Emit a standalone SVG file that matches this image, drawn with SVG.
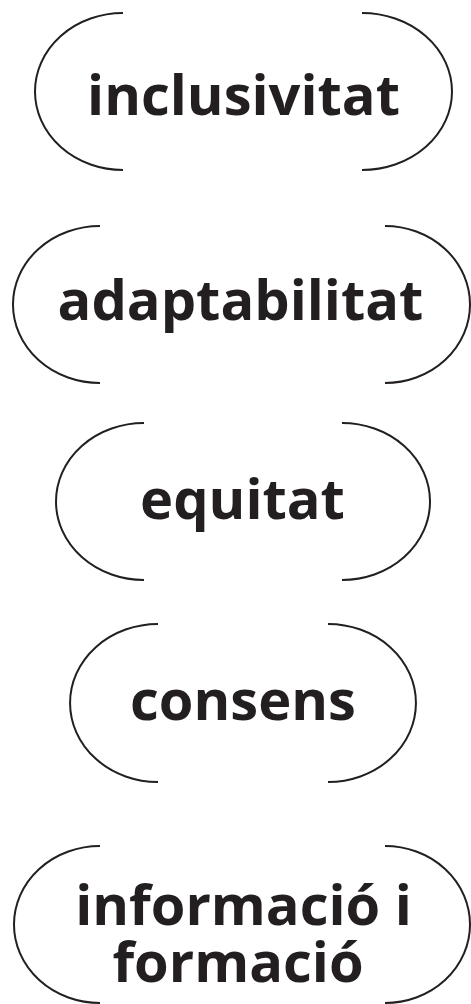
<svg xmlns="http://www.w3.org/2000/svg" width="471" height="1004" viewBox="0 0 471 1004">
<style>
.br{fill:none;stroke:#231f20;stroke-width:2}
.t{font-family:"Open Sans","Noto Sans",sans-serif;font-weight:700;font-size:56px;fill:#231f20;text-anchor:middle}
</style>
<rect width="471" height="1004" fill="#fff"/>
<g id="node-inclusivitat">
<path class="br" d="M123,13 A88,78.5 0 0 0 123,170"/>
<path class="br" d="M362,13 A90,78.5 0 0 1 362,170"/>
<text class="t" x="243.5" y="115">inclusivitat</text>
</g>
<g id="node-adaptabilitat">
<path class="br" d="M100,226 A87,78.5 0 0 0 100,383"/>
<path class="br" d="M385,226 A85,78.5 0 0 1 385,383"/>
<text class="t" x="240.5" y="320">adaptabilitat</text>
</g>
<g id="node-equitat">
<path class="br" d="M144,423 A88,78.5 0 0 0 144,580"/>
<path class="br" d="M342,423 A88,78.5 0 0 1 342,580"/>
<text class="t" x="242.5" y="519">equitat</text>
</g>
<g id="node-consens">
<path class="br" d="M158,624 A88,79 0 0 0 158,782"/>
<path class="br" d="M328,624 A88,79 0 0 1 328,782"/>
<text class="t" x="243" y="720">consens</text>
</g>
<g id="node-informacio">
<path class="br" d="M100,846 A86,78.5 0 0 0 100,1003"/>
<path class="br" d="M385,846 A85,78.5 0 0 1 385,1003"/>
<text class="t" x="243.5" y="925">informació i</text>
<text class="t" x="238" y="982">formació</text>
</g>
<g id="connectors"/>
</svg>
